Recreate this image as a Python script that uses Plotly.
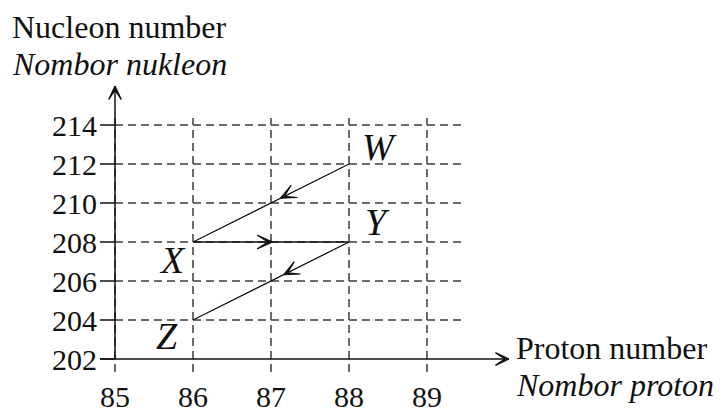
import math
import plotly.graph_objects as go

# ---- data ----
proton_ticks = [85, 86, 87, 88, 89]
nucleon_ticks = [202, 204, 206, 208, 210, 212, 214]
nuclide_names = ["W", "X", "Y", "Z"]
nuclide_proton = [88, 86, 88, 86]
nuclide_nucleon = [212, 208, 208, 204]
decay_from = ["W", "X", "Y"]
decay_to = ["X", "Y", "Z"]
arrow_tip_fraction = [0.44, 0.51, 0.42]   # where along each path the arrowhead sits

# ---- layout helpers (pixel frame of the reference) ----
W_PX, H_PX = 726, 412
X0_PX, X_SCALE = 115, 78.0      # x=85 at px 115, 78 px per proton
Y0_PX, Y_SCALE = 359, 19.5      # y=202 at px 359, 19.5 px per nucleon


def dx(px):
    return 85 + (px - X0_PX) / X_SCALE


def dy(py):
    return 202 + (Y0_PX - py) / Y_SCALE


FONT = "Liberation Serif"
INK = "#111111"
GRID = "#3c3c3c"

fig = go.Figure()


def line(xs, ys, color=INK, width=1.5, dash=None):
    fig.add_trace(go.Scatter(x=xs, y=ys, mode="lines",
                             line=dict(color=color, width=width, dash=dash),
                             hoverinfo="skip", showlegend=False))


def head(tx, ty, ux, uy, length=16, angle=24, width=1.2, notch=0.3):
    """stealth-like barbed arrowhead at (tx, ty) pointing along data direction (ux, uy)"""
    vx, vy = ux * X_SCALE, uy * Y_SCALE
    norm = math.hypot(vx, vy)
    vx, vy = vx / norm, vy / norm
    pts = []
    for sgn in (1, -1):
        a = math.radians(angle) * sgn
        bx = -(vx * math.cos(a) - vy * math.sin(a)) * length
        by = -(vx * math.sin(a) + vy * math.cos(a)) * length
        pts.append((tx + bx / X_SCALE, ty + by / Y_SCALE))
    back = length * math.cos(math.radians(angle)) * notch
    nx, ny = tx - vx * back / X_SCALE, ty - vy * back / Y_SCALE
    xs = [tx, pts[0][0], nx, pts[1][0], tx]
    ys = [ty, pts[0][1], ny, pts[1][1], ty]
    fig.add_trace(go.Scatter(x=xs, y=ys, mode="lines", fill="toself", fillcolor=INK,
                             line=dict(color=INK, width=width),
                             hoverinfo="skip", showlegend=False))


# dashed grid: vertical
for p in proton_ticks:
    line([p, p], [dy(372), dy(118)], color=GRID, dash="8px,5px")
# dashed grid: horizontal + solid tick marks on the left
for n in nucleon_ticks[1:]:
    line([85, dx(466)], [n, n], color=GRID, dash="8px,5px")
for n in nucleon_ticks:
    line([dx(100), 85], [n, n])

# axes with arrows
y_top = dy(86)
x_right = dx(509)
line([85, 85], [202, y_top])
head(85, y_top, 0, 1, length=15, angle=25, width=1.2)
line([dx(100), x_right], [202, 202])
head(x_right, 202, 1, 0, length=15, angle=25, width=1.2)

# decay paths with arrowheads
pos = {n: (p, a) for n, p, a in zip(nuclide_names, nuclide_proton, nuclide_nucleon)}
for f, t, frac in zip(decay_from, decay_to, arrow_tip_fraction):
    (x1, y1), (x2, y2) = pos[f], pos[t]
    line([x1, x2], [y1, y2], width=1.3)
    head(x1 + (x2 - x1) * frac, y1 + (y2 - y1) * frac, x2 - x1, y2 - y1,
         length=17, angle=24, width=1.1)

ann = []
# nuclide labels
shifts = {"W": (30, 17), "X": (-21, -18), "Y": (28, 20), "Z": (-26, -16)}
for n, p, a in zip(nuclide_names, nuclide_proton, nuclide_nucleon):
    sx, sy = shifts[n]
    ann.append(dict(x=p, y=a, xref="x", yref="y", text=f"<i>{n}</i>", showarrow=False,
                    xshift=sx, yshift=sy, font=dict(family=FONT, size=38, color=INK)))

# tick labels
for n in nucleon_ticks:
    ann.append(dict(x=dx(99), y=n, xref="x", yref="y", text=str(n), showarrow=False,
                    xanchor="right", yanchor="middle",
                    font=dict(family=FONT, size=30, color=INK)))
for p in proton_ticks:
    ann.append(dict(x=p, y=dy(396), xref="x", yref="y", text=str(p), showarrow=False,
                    xanchor="center", yanchor="middle",
                    font=dict(family=FONT, size=30, color=INK)))


# axis titles
def txt(px, py, s, anchor="left"):
    return dict(x=px / W_PX, y=1 - py / H_PX, xref="paper", yref="paper", text=s,
                showarrow=False, xanchor=anchor, yanchor="middle",
                font=dict(family=FONT, size=32, color=INK))


ann.append(txt(10, 27, "Nucleon number"))
ann.append(txt(10, 64, "<i>Nombor nukleon</i>"))
ann.append(txt(514, 348, "Proton number"))
ann.append(txt(514, 385, "<i>Nombor proton</i>"))

fig.update_layout(
    width=W_PX, height=H_PX, autosize=False,
    margin=dict(l=0, r=0, t=0, b=0),
    paper_bgcolor="white", plot_bgcolor="white",
    xaxis=dict(range=[dx(0), dx(W_PX)], visible=False, fixedrange=True),
    yaxis=dict(range=[dy(H_PX), dy(0)], visible=False, fixedrange=True),
    annotations=ann, showlegend=False,
)

fig.write_html("out.html", config={"displayModeBar": False},
               post_script="document.body.style.margin='0';document.body.style.overflow='hidden';")
